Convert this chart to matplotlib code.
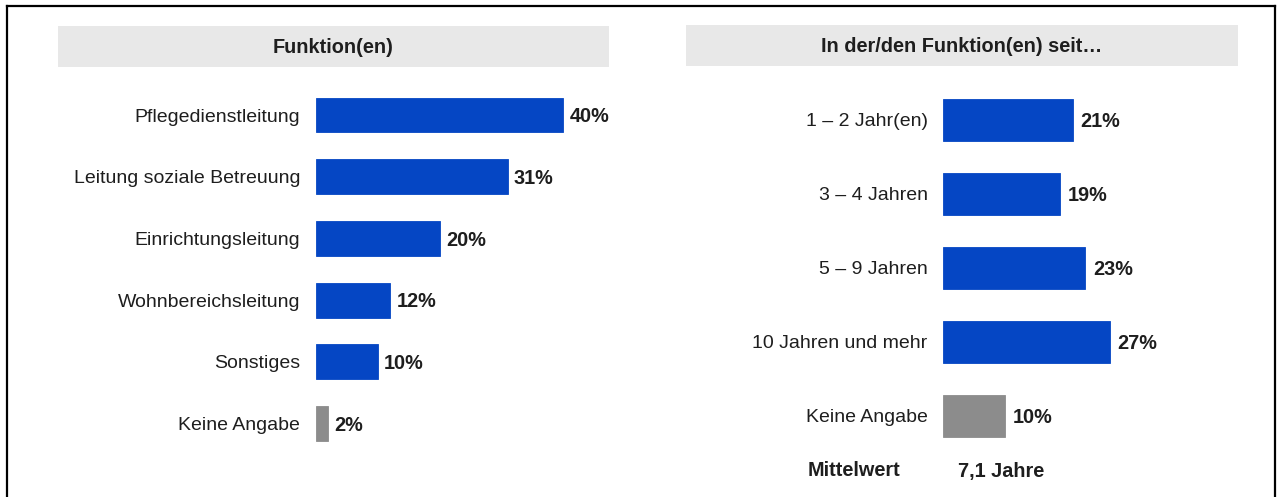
import matplotlib
matplotlib.use("Agg")
import matplotlib.pyplot as plt
from matplotlib.patches import Rectangle
from matplotlib.lines import Line2D

plt.rcParams['font.family'] = ['Liberation Sans', 'DejaVu Sans']

# Data
funktion_labels = ["Pflegedienstleitung", "Leitung soziale Betreuung", "Einrichtungsleitung",
                   "Wohnbereichsleitung", "Sonstiges", "Keine Angabe"]
funktion_values = [40, 31, 20, 12, 10, 2]

seit_labels = ["1 – 2 Jahr(en)", "3 – 4 Jahren", "5 – 9 Jahren", "10 Jahren und mehr", "Keine Angabe"]
seit_values = [21, 19, 23, 27, 10]

title_left = "Funktion(en)"
title_right = "In der/den Funktion(en) seit…"
mean_label = "Mittelwert"
mean_value = "7,1 Jahre"

BLUE = "#0546c4"
GREY = "#8c8c8c"
TEXT = "#1e1e1e"
HEADER_BG = "#e8e8e8"

LABEL_SIZE = 14
BOLD_SIZE = 14.3

W, H = 1277, 497
fig = plt.figure(figsize=(W / 100, H / 100), dpi=100)


def px_axes(x0, y0, x1, y1):
    """Axes placed by pixel box (top-left origin)."""
    return fig.add_axes([x0 / W, 1 - y1 / H, (x1 - x0) / W, (y1 - y0) / H])


def header(x0, y0, x1, y1, text):
    fig.patches.append(Rectangle((x0 / W, 1 - y1 / H), (x1 - x0) / W, (y1 - y0) / H,
                                 transform=fig.transFigure, facecolor=HEADER_BG,
                                 edgecolor="none", zorder=0))
    fig.text((x0 + x1) / 2 / W, 1 - ((y0 + y1) / 2 + 1) / H, text, ha="center", va="center",
             fontsize=BOLD_SIZE, fontweight="bold", color=TEXT)


def bar_panel(ax, labels, values, grey_last, xmax, pad, val_offset):
    n = len(labels)
    pos = list(range(n))
    colors = [BLUE] * n
    if grey_last:
        colors[-1] = GREY
    ax.barh(pos, values, height=0.567, color=colors, edgecolor=colors, linewidth=0.6)
    ax.set_xlim(0, xmax)
    ax.set_ylim(n - 0.5, -0.5)
    ax.set_yticks(pos)
    ax.set_yticklabels(labels, fontsize=LABEL_SIZE, color=TEXT)
    ax.tick_params(axis="y", length=0, pad=pad)
    ax.set_xticks([])
    for s in ax.spines.values():
        s.set_visible(False)
    ax.patch.set_alpha(0)
    for p, v in zip(pos, values):
        ax.annotate(f"{v}%", (v, p), xytext=(val_offset, -1.2), textcoords="offset points",
                    ha="left", va="center", fontsize=BOLD_SIZE, fontweight="bold", color=TEXT)


scale = 6.18  # pixels per percent

# Left panel
axL = px_axes(316, 115 - 61.7 / 2, 316 + scale * 50, 423.5 + 61.7 / 2)
bar_panel(axL, funktion_labels, funktion_values, True, 50, 11.5, 4.6)
header(58, 26, 609, 66.5, title_left)

# Right panel
axR = px_axes(943, 120 - 37, 943 + scale * 40, 416 + 37)
bar_panel(axR, seit_labels, seit_values, True, 40, 11, 5.6)
header(686, 25.5, 1238, 66, title_right)

fig.text(854 / W, 1 - 471 / H, mean_label, ha="center", va="center",
         fontsize=BOLD_SIZE, fontweight="bold", color=TEXT)
fig.text(958 / W, 1 - 471 / H, mean_value, ha="left", va="center",
         fontsize=BOLD_SIZE, fontweight="bold", color=TEXT)

# Frame around the slide (open at the bottom)
for xs, ys in [([7, 7], [6, H + 5]), ([7, 1275], [6, 6]), ([1275, 1275], [6, H + 5])]:
    fig.add_artist(Line2D([x / W for x in xs], [1 - y / H for y in ys],
                          transform=fig.transFigure, color="black", linewidth=1.6))

fig.savefig("out.png", dpi=100)
